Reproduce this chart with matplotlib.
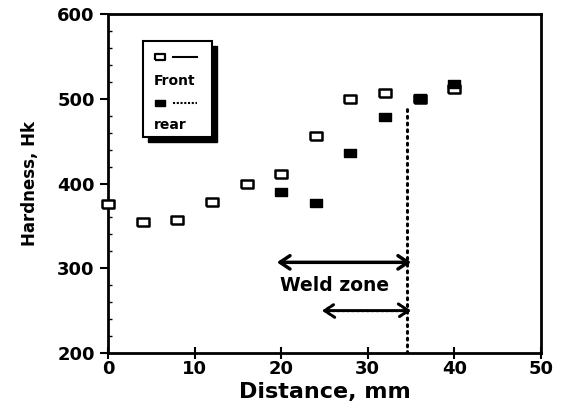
import numpy as np
import matplotlib
matplotlib.use('Agg')
import matplotlib.pyplot as plt
from matplotlib.patches import Rectangle
from matplotlib.ticker import MultipleLocator

# hardness readings
front_x = [0, 4, 8, 12, 16, 20, 24, 28, 32, 36, 40]
front_y = [376, 355, 357, 378, 400, 411, 456, 500, 507, 500, 512]
rear_x = [20, 24, 28, 32, 36, 40]
rear_y = [390, 377, 436, 478, 501, 518]

weld_edge = 34.5
weld_top = 492
front_zone = (19.5, 35, 307)
rear_zone = (24.7, 35, 250)

plt.rcParams['font.family'] = ['DejaVu Sans']
fig = plt.figure(figsize=(5.66, 4.11), dpi=100)
ax = fig.add_axes([0.1908, 0.1411, 0.765, 0.8248])

box = [(-1.5, -1), (1.5, -1), (1.5, 1), (-1.5, 1), (-1.5, -1)]
ax.plot(front_x, front_y, linestyle='none', marker=box, markersize=8,
        mfc='white', mec='black', mew=1.8, zorder=3, clip_on=False)
ax.plot(rear_x, rear_y, linestyle='none', marker=box, markersize=8,
        mfc='black', mec='black', mew=1.0, zorder=4, clip_on=False)

# weld boundary
ax.plot([weld_edge, weld_edge], [200, weld_top], color='black', lw=2.2,
        linestyle=(0, (0.6, 1.6)), dash_capstyle='round')

# weld zone arrows
ax.annotate('', xy=(front_zone[0], front_zone[2]), xytext=(front_zone[1], front_zone[2]),
            arrowprops=dict(arrowstyle='<->,head_length=0.45,head_width=0.3', lw=2.5,
                            color='black', mutation_scale=16, shrinkA=0, shrinkB=0))
ax.annotate('', xy=(rear_zone[0], rear_zone[2]), xytext=(rear_zone[1], rear_zone[2]),
            arrowprops=dict(arrowstyle='<->,head_length=0.45,head_width=0.3', lw=2.2,
                            color='black', linestyle=(0, (1, 0.6)),
                            mutation_scale=16, shrinkA=0, shrinkB=0))
ax.text(26.2, 280, 'Weld zone', ha='center', va='center', fontsize=13.5, fontweight='bold')

ax.set_xlim(0, 50)
ax.set_ylim(200, 600)
ax.xaxis.set_major_locator(MultipleLocator(10))
ax.yaxis.set_major_locator(MultipleLocator(100))
ax.yaxis.set_minor_locator(MultipleLocator(20))
ax.tick_params(axis='y', which='major', direction='out', length=6, width=1.5, labelsize=13)
ax.tick_params(axis='y', which='minor', direction='in', length=3, width=1)
ax.tick_params(axis='x', which='major', direction='inout', length=8, width=1.5, labelsize=13, pad=1)
for lab in ax.get_xticklabels() + ax.get_yticklabels():
    lab.set_fontweight('bold')
for s in ax.spines.values():
    s.set_linewidth(2)

ax.set_xlabel('Distance, mm', fontsize=16, fontweight='bold', labelpad=3)
ax.set_ylabel('Hardness, Hk', fontsize=12, fontweight='bold', labelpad=13)

# legend box with drop shadow
lx, ly, lw_, lh = 0.081, 0.637, 0.159, 0.283
ax.add_patch(Rectangle((lx + 0.012, ly - 0.015), lw_, lh, transform=ax.transAxes,
                       facecolor='black', edgecolor='black', zorder=5))
ax.add_patch(Rectangle((lx, ly), lw_, lh, transform=ax.transAxes,
                       facecolor='white', edgecolor='black', lw=1.5, zorder=6))
ax.plot([lx + 0.04], [ly + 0.235], transform=ax.transAxes, marker=box, markersize=7,
        mfc='white', mec='black', mew=1.6, zorder=7)
ax.plot([lx + 0.07, lx + 0.125], [ly + 0.235] * 2, transform=ax.transAxes,
        color='black', lw=1.5, zorder=7)
ax.text(lx + 0.025, ly + 0.165, 'Front', transform=ax.transAxes, fontsize=10,
        fontweight='bold', va='center', zorder=7)
ax.plot([lx + 0.04], [ly + 0.10], transform=ax.transAxes, marker=box, markersize=7,
        mfc='black', mec='black', zorder=7)
ax.plot([lx + 0.07, lx + 0.125], [ly + 0.10] * 2, transform=ax.transAxes,
        color='black', lw=1.5, linestyle=(0, (1, 0.8)), zorder=7)
ax.text(lx + 0.025, ly + 0.035, 'rear', transform=ax.transAxes, fontsize=10,
        fontweight='bold', va='center', zorder=7)

fig.savefig('out.png', dpi=100)
